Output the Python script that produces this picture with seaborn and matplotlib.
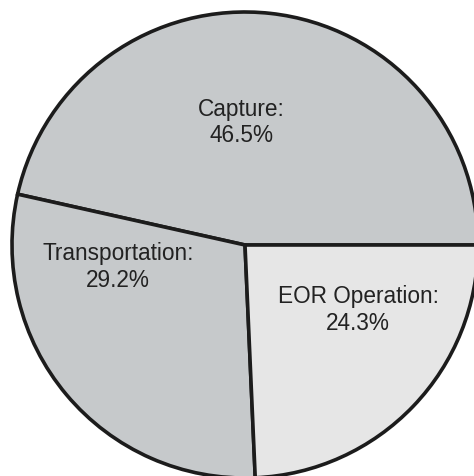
import matplotlib
matplotlib.use("Agg")
import matplotlib.pyplot as plt
import seaborn as sns

# Cost breakdown of a CO2-EOR chain
categories = ["Capture", "Transportation", "EOR Operation"]
shares = [46.5, 29.2, 24.3]
slice_colors = ["#c6c9cb", "#c6c9cb", "#e6e6e6"]

sns.set_theme(style="white")
plt.rcParams["font.family"] = ["Liberation Sans", "DejaVu Sans"]

W, H = 474, 476
fig = plt.figure(figsize=(W / 100, H / 100), dpi=100)
fig.patch.set_facecolor("white")

# Pie of radius 1 fills a 466 px square, centred at (245, 245) px from top-left
R = 233
cx, cy = 245, 245
ax = fig.add_axes([(cx - R) / W, (H - cy - R) / H, 2 * R / W, 2 * R / H])

# Wedges go counter-clockwise from 3 o'clock: Capture, Transportation, then EOR
wedges, _ = ax.pie(
    shares,
    colors=slice_colors,
    startangle=0,
    counterclock=True,
    radius=1.0,
    wedgeprops=dict(edgecolor="#1c1c1c", linewidth=2.6, joinstyle="miter"),
)
for w in wedges:
    w.set_clip_on(False)

ax.set_xlim(-1, 1)
ax.set_ylim(-1, 1)
ax.set_aspect("equal")
ax.axis("off")

# Label anchors (axes-data units) for each slice
label_pos = [(-0.015, 0.525), (-0.545, -0.095), (0.485, -0.28)]
for name, val, (x, y) in zip(categories, shares, label_pos):
    ax.text(x, y, f"{name}:\n{val:.1f}%", ha="center", va="center",
            fontsize=16.3, color="#222222", linespacing=1.2)

fig.savefig("out.png", dpi=100, facecolor="white")
